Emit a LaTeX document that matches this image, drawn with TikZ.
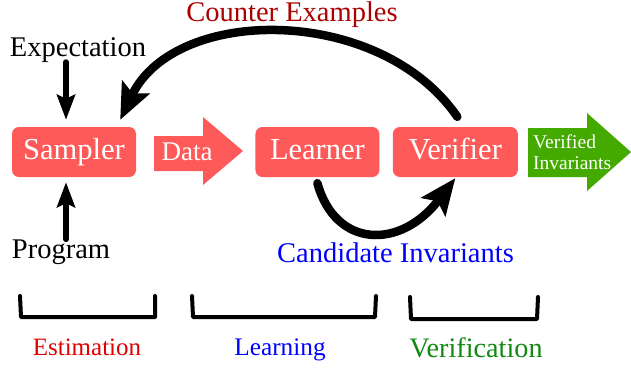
\documentclass[tikz,border=0pt]{standalone}
\usepackage{fontspec}
\setmainfont{Liberation Serif}
\usepackage{xcolor}
\usetikzlibrary{positioning,arrows.meta}
\definecolor{boxred}{HTML}{FF5A5A}
\definecolor{okgreen}{HTML}{44AA00}
\definecolor{cexred}{HTML}{AA0000}
\definecolor{estred}{HTML}{E00000}
\definecolor{candblue}{HTML}{0000FF}
\definecolor{verifgreen}{HTML}{118811}

\begin{document}
\begin{tikzpicture}[x=1pt,y=-1pt]
		\tikzset{box/.style = {rectangle, rounded corners=7pt, fill=boxred, text=white, inner sep=0pt,
				minimum width=124pt, minimum height=50pt, text height=21pt, text depth=7pt,
				font=\fontsize{30.5}{34}\selectfont},
			lbl/.style = {inner sep=0pt, anchor=base, font=\fontsize{28.5}{32}\selectfont},
			thickarrow/.style = {line width=6pt, line cap=round, -{Stealth[length=25pt,width=18pt,inset=4pt]}},
			bigarrow/.style = {line width=8.5pt, line cap=round, -{Stealth[length=36pt,width=30pt,inset=7pt]}},
			bracket/.style = {line width=4pt, line join=round, line cap=round}}
		\useasboundingbox (0,0) rectangle (631,370);
		%\draw[help lines] (0,0) grid[step=50] (631,370);
		\node[box] (sampler) at (74,152) {Sampler};
		\node[box, right=119pt of sampler] (learner) {Learner};
		\node[box, right=13pt of learner, minimum width=125pt] (verifier) {Verifier};
		\fill[boxred] (154,136) -- (203,136) -- (203,117) -- (243,151) -- (203,185) -- (203,171) -- (154,171) -- cycle;
		\node[lbl, text=white, font=\fontsize{27}{30}\selectfont] (data) at (187,160) {Data};
		\fill[okgreen] (528,128) -- (587,128) -- (587,113) -- (631,152) -- (587,191) -- (587,177) -- (528,177) -- cycle;
		\node[inner sep=0pt, anchor=west, align=left, text=white, font=\fontsize{19.5}{21}\selectfont] (verified) at (533,152) {Verified\\Invariants};
		\node[lbl] (expect) at (78,56) {Expectation};
		\node[lbl] (program) at (61,258) {Program};
		\node[lbl, text=cexred] (cex) at (292,21) {Counter Examples};
		\node[lbl, text=candblue] (cand) at (395.5,262) {Candidate Invariants};
		\node[lbl, text=estred, font=\fontsize{25}{30}\selectfont] (est) at (87,355) {Estimation};
		\node[lbl, text=candblue, font=\fontsize{25.3}{30}\selectfont] (learn) at (280,355) {Learning};
		\node[lbl, text=verifgreen, font=\fontsize{28.2}{32}\selectfont] (verif) at (476,357) {Verification};
		\draw[thickarrow] ([xshift=-12pt]expect.south) -- ([xshift=-8pt,yshift=7pt]sampler.north);
		\draw[thickarrow] ([xshift=5pt]program.north) -- ([xshift=-8pt,yshift=-5pt]sampler.south);
		\draw[bigarrow] ([xshift=2pt,yshift=10pt]verifier.north) .. controls +(-77,-112) and +(55,-115) .. ([xshift=-16pt,yshift=7pt]sampler.north east);
		\draw[bigarrow] ([yshift=-6pt]learner.south) .. controls +(18,65) and +(-55,72) .. ([yshift=-1pt]verifier.south);
		\draw[bracket] (20,296) -- (21,317) -- (155,317) -- (155,296);
		\draw[bracket] (192,296) -- (193,317) -- (375,317) -- (376,296);
		\draw[bracket] (410,297) -- (411,319) -- (537,319) -- (538,297);
\end{tikzpicture}
\end{document}
